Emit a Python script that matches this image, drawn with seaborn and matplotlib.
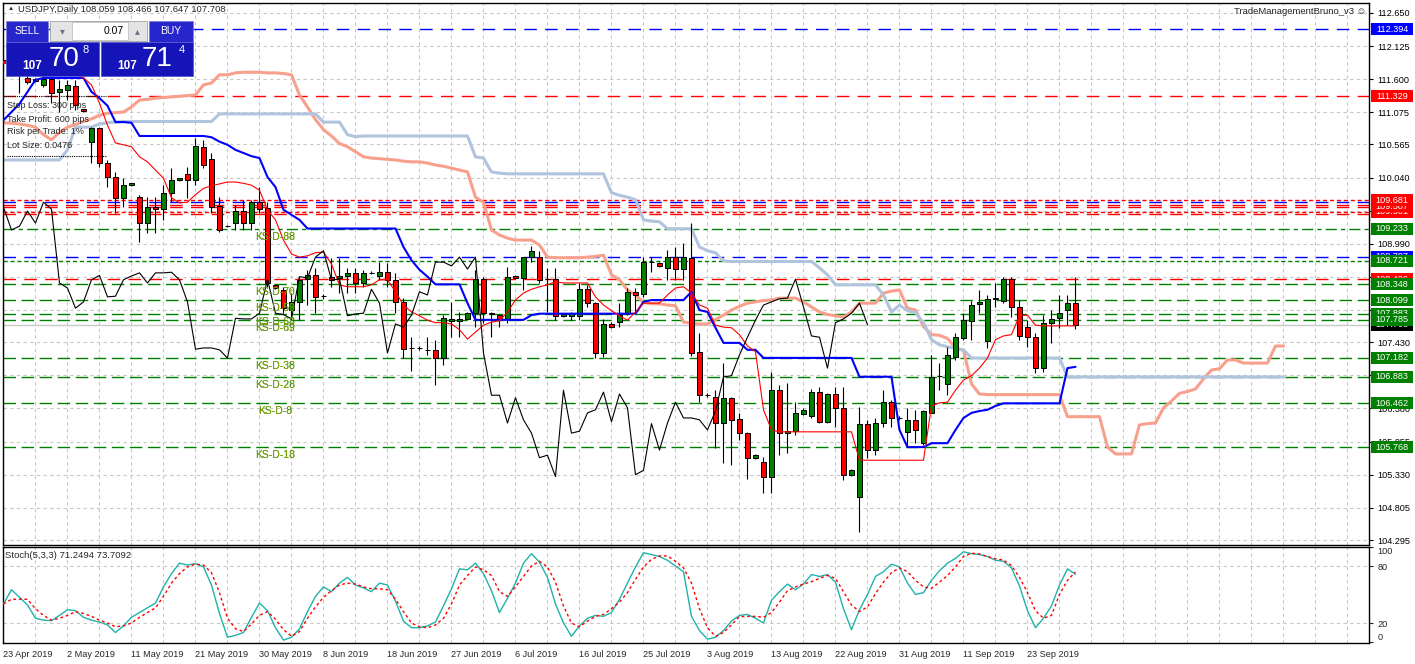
import matplotlib
matplotlib.use("Agg")
import matplotlib.pyplot as plt
import matplotlib.transforms as mtransforms
from matplotlib.patches import Rectangle
from matplotlib.lines import Line2D
import numpy as np
import seaborn as sns

# ---------------- data ----------------
opens = [111.90, 111.86, 111.90, 111.62, 111.60, 111.51, 111.60, 111.40, 111.43, 111.49,
         111.12, 110.61, 110.83, 110.27, 110.05, 109.72, 109.92, 109.73, 109.32, 109.57,
         109.54, 109.80, 110.00, 110.10, 110.00, 110.53, 110.34, 109.59, 109.27, 109.32,
         109.51, 109.32, 109.65, 109.56, 108.34, 108.26, 107.94, 108.07, 108.43, 108.49,
         108.16, 108.47, 108.45, 108.48, 108.53, 108.37, 108.53, 108.48, 108.54, 108.42,
         108.07, 107.34, 107.34, 107.31, 107.31, 107.18, 107.76, 107.76, 107.80, 107.89,
         108.43, 107.89, 107.86, 107.80, 108.48, 108.45, 108.78, 108.78, 108.43, 108.43,
         107.85, 107.85, 107.85, 108.27, 108.05, 107.26, 107.72, 107.75, 107.89, 108.23,
         108.20, 108.70, 108.69, 108.61, 108.78, 108.59, 108.76, 107.28, 106.59, 106.56,
         106.15, 106.55, 106.21, 105.99, 105.60, 105.53, 105.30, 106.67, 105.99, 106.02,
         106.30, 106.26, 106.64, 106.17, 106.61, 106.39, 105.33, 104.98, 106.14, 105.72,
         106.15, 106.48, 106.23, 106.01, 106.20, 105.83, 106.31, 106.90, 106.77, 107.20,
         107.50, 107.77, 108.04, 107.45, 108.12, 108.09, 108.43, 107.99, 107.67, 107.51,
         107.02, 107.74, 107.82, 107.94, 108.059]
highs = [111.97, 111.95, 111.97, 111.72, 111.62, 111.70, 111.70, 111.59, 111.59, 111.59,
         111.13, 110.84, 110.84, 110.32, 110.13, 110.03, 109.96, 109.76, 109.73, 109.73,
         109.92, 110.19, 110.04, 110.21, 110.67, 110.64, 110.43, 109.73, 109.29, 109.61,
         109.69, 109.69, 109.89, 109.66, 108.36, 108.31, 108.21, 108.47, 108.58, 108.60,
         108.20, 108.77, 108.77, 108.61, 108.61, 108.58, 108.56, 108.70, 108.69, 108.53,
         108.13, 107.52, 107.37, 107.52, 107.47, 107.86, 108.07, 107.91, 107.91, 108.58,
         108.47, 107.91, 107.87, 108.62, 108.50, 108.78, 108.96, 108.88, 108.61, 108.61,
         107.89, 107.91, 108.37, 108.34, 108.07, 107.80, 107.75, 108.05, 108.29, 108.29,
         108.78, 108.78, 108.70, 108.89, 108.94, 109.00, 109.32, 107.58, 106.62, 106.67,
         107.10, 106.56, 106.31, 106.00, 105.66, 105.61, 106.96, 106.75, 106.78, 106.48,
         106.38, 106.69, 106.72, 106.63, 106.72, 106.72, 105.42, 106.40, 106.20, 106.23,
         106.67, 106.51, 106.26, 106.39, 106.36, 106.36, 107.23, 107.10, 107.36, 107.58,
         107.89, 108.09, 108.26, 108.18, 108.37, 108.47, 108.47, 108.10, 107.78, 107.58,
         107.86, 107.94, 108.18, 108.18, 108.466]
lows = [111.76, 111.80, 111.38, 111.52, 111.55, 111.47, 111.22, 111.08, 111.27, 111.11,
        111.08, 110.27, 110.21, 109.89, 109.48, 109.57, 109.90, 109.02, 109.16, 109.16,
        109.37, 109.65, 109.99, 109.72, 109.93, 110.19, 109.48, 109.18, 109.25, 109.21,
        109.21, 109.21, 109.48, 108.31, 108.28, 107.89, 107.78, 107.78, 108.02, 107.89,
        108.12, 108.31, 108.21, 108.21, 108.21, 108.31, 108.51, 108.42, 108.31, 107.89,
        107.18, 106.97, 107.31, 107.23, 106.75, 107.07, 107.51, 107.51, 107.78, 107.67,
        107.74, 107.51, 107.67, 107.74, 108.44, 108.26, 108.70, 108.37, 107.91, 107.78,
        107.83, 107.78, 107.78, 107.99, 107.18, 107.20, 107.65, 107.67, 107.86, 107.89,
        108.15, 108.54, 108.63, 108.42, 108.42, 108.42, 107.21, 106.48, 106.56, 105.75,
        105.52, 105.49, 105.88, 105.26, 105.58, 105.04, 105.04, 105.64, 105.67, 105.96,
        106.27, 106.23, 106.15, 106.15, 106.09, 105.25, 105.31, 104.42, 105.60, 105.64,
        106.09, 106.09, 106.20, 105.77, 105.83, 105.80, 106.31, 106.67, 106.59, 107.15,
        107.47, 107.47, 107.89, 107.34, 107.99, 108.05, 107.83, 107.47, 107.36, 106.94,
        106.96, 107.42, 107.66, 107.70, 107.647]
closes = [111.86, 111.90, 111.68, 111.56, 111.57, 111.60, 111.38, 111.45, 111.51, 111.19,
          111.10, 110.83, 110.27, 110.05, 109.72, 109.92, 109.95, 109.32, 109.57, 109.54,
          109.80, 110.00, 110.03, 110.00, 110.54, 110.24, 109.57, 109.21, 109.27, 109.51,
          109.32, 109.65, 109.54, 108.37, 108.29, 107.97, 108.07, 108.42, 108.49, 108.15,
          108.16, 108.42, 108.48, 108.53, 108.37, 108.53, 108.53, 108.54, 108.42, 108.07,
          107.32, 107.34, 107.34, 107.31, 107.18, 107.81, 107.80, 107.80, 107.89, 108.43,
          107.89, 107.87, 107.80, 108.47, 108.45, 108.78, 108.88, 108.42, 108.43, 107.85,
          107.88, 107.89, 108.27, 108.05, 107.26, 107.72, 107.67, 107.86, 108.23, 108.18,
          108.70, 108.70, 108.64, 108.78, 108.59, 108.78, 107.26, 106.59, 106.59, 106.15,
          106.55, 106.20, 105.99, 105.60, 105.64, 105.30, 106.67, 105.99, 106.02, 106.31,
          106.36, 106.64, 106.17, 106.61, 106.39, 105.33, 105.40, 106.14, 105.72, 106.15,
          106.48, 106.23, 106.23, 106.20, 106.04, 106.34, 106.88, 106.90, 107.23, 107.51,
          107.78, 108.02, 108.07, 108.12, 108.13, 108.43, 107.99, 107.53, 107.51, 107.02,
          107.74, 107.80, 107.89, 108.05, 107.708]

tenkan = [111.85, 111.85, 111.85, 111.80, 111.80, 111.75, 111.75, 111.70, 111.70, 111.68,
          111.62, 111.51, 111.22, 110.87, 110.59, 110.56, 110.53, 110.37, 110.29, 110.16,
          110.03, 109.72, 109.64, 109.65, 109.77, 109.87, 109.91, 109.94, 109.97, 109.97,
          109.95, 109.92, 109.84, 109.53, 109.37, 109.05, 108.83, 108.78, 108.80, 108.85,
          108.86, 108.67, 108.34, 108.31, 108.31, 108.31, 108.34, 108.42, 108.42, 108.23,
          108.02, 107.91, 107.85, 107.78, 107.74, 107.74, 107.72, 107.63, 107.48, 107.59,
          107.70, 107.75, 107.77, 107.91, 108.10, 108.21, 108.27, 108.31, 108.34, 108.39,
          108.37, 108.37, 108.37, 108.37, 108.15, 108.02, 107.93, 107.85, 107.78, 107.91,
          108.05, 108.05, 108.05, 108.18, 108.29, 108.31, 108.21, 108.02, 107.97, 107.70,
          107.67, 107.66, 107.55, 107.37, 107.28, 106.36, 106.04, 106.01, 106.01, 106.01,
          106.01, 106.01, 106.01, 106.01, 106.01, 106.01, 106.01, 105.56, 105.56, 105.56,
          105.56, 105.56, 105.56, 105.56, 105.56, 105.56, 106.42, 106.47, 106.48, 106.67,
          106.83, 106.90, 107.02, 107.18, 107.47, 107.53, 107.55, 107.85, 107.86, 107.70,
          107.69, 107.69, 107.69, 107.69, 107.69]
kijun = [110.95, 111.08, 111.21, 111.40, 111.59, 111.62, 111.62, 111.62, 111.62, 111.62,
         111.62, 111.40, 111.30, 111.18, 110.92, 110.92, 110.91, 110.70, 110.70, 110.70,
         110.70, 110.70, 110.70, 110.70, 110.70, 110.70, 110.68, 110.61, 110.56, 110.48,
         110.43, 110.38, 110.35, 110.05, 109.89, 109.53, 109.45, 109.37, 109.233, 109.233,
         109.233, 109.233, 109.233, 109.233, 109.233, 109.233, 109.233, 109.233, 109.233, 109.233,
         108.94, 108.73, 108.58, 108.47, 108.348, 108.348, 108.348, 108.348, 108.05, 107.785,
         107.785, 107.785, 107.785, 107.785, 107.785, 107.785, 107.86, 107.883, 107.883, 107.883,
         107.883, 107.883, 107.883, 107.883, 107.883, 107.883, 107.883, 107.883, 107.883, 107.883,
         108.07, 108.099, 108.099, 108.099, 108.099, 108.099, 108.23, 107.94, 107.91, 107.66,
         107.42, 107.42, 107.42, 107.31, 107.31, 107.182, 107.182, 107.182, 107.182, 107.182,
         107.182, 107.182, 107.182, 107.182, 107.182, 107.182, 107.182, 106.883, 106.883, 106.883,
         106.883, 106.883, 106.04, 105.768, 105.768, 105.768, 105.83, 105.83, 105.83, 106.04,
         106.23, 106.31, 106.34, 106.36, 106.42, 106.462, 106.462, 106.462, 106.462, 106.462,
         106.462, 106.462, 106.462, 107.02, 107.04]
senkou_a = [110.91, 110.90, 110.89, 110.87, 110.84, 110.72, 110.64, 110.76, 110.84, 110.88,
            110.93, 110.97, 111.03, 111.06, 111.07, 111.08, 111.16, 111.27, 111.28, 111.30,
            111.31, 111.32, 111.33, 111.34, 111.35, 111.51, 111.54, 111.67, 111.67, 111.70,
            111.71, 111.71, 111.71, 111.70, 111.70, 111.69, 111.67, 111.35, 111.16, 110.96,
            110.80, 110.70, 110.58, 110.53, 110.45, 110.37, 110.35, 110.34, 110.33, 110.32,
            110.30, 110.29, 110.29, 110.27, 110.24, 110.22, 110.19, 110.16, 110.13, 109.73,
            109.65, 109.21, 109.13, 109.08, 109.05, 109.05, 109.05, 108.97, 108.78, 108.77,
            108.77, 108.77, 108.77, 108.78, 108.79, 108.81, 108.50, 108.42, 108.26, 108.18,
            108.06, 108.04, 108.04, 108.02, 108.01, 107.75, 107.73, 107.72, 107.72, 107.79,
            107.86, 107.94, 108.00, 108.05, 108.07, 108.09, 108.10, 108.13, 108.13, 108.13,
            108.07, 107.99, 107.91, 107.87, 107.85, 107.83, 107.91, 108.05, 108.05, 108.05,
            108.21, 108.24, 108.26, 107.97, 107.94, 107.68, 107.55, 107.54, 107.49, 107.34,
            107.30, 106.77, 106.61, 106.60, 106.60, 106.60, 106.60, 106.60, 106.60, 106.60,
            106.60, 106.60, 106.60, 106.25, 106.25, 106.25, 106.25, 106.25, 105.77, 105.66,
            105.66, 105.66, 106.12, 106.14, 106.15, 106.39, 106.50, 106.62, 106.65, 106.69,
            106.85, 106.99, 107.01, 107.15, 107.15, 107.10, 107.10, 107.10, 107.10, 107.37,
            107.37]
senkou_b = [110.32, 110.32, 110.32, 110.32, 110.32, 110.32, 110.32, 110.32, 110.48, 110.84,
            110.84, 110.84, 110.89, 110.91, 110.92, 110.93, 110.93, 110.93, 110.93, 110.93,
            110.93, 110.93, 110.93, 110.93, 110.93, 110.93, 110.93, 111.05, 111.05, 111.05,
            111.05, 111.05, 111.05, 111.05, 111.05, 111.05, 111.05, 111.05, 111.05, 111.05,
            110.92, 110.92, 110.92, 110.72, 110.69, 110.70, 110.70, 110.70, 110.70, 110.70,
            110.70, 110.70, 110.70, 110.70, 110.70, 110.70, 110.70, 110.70, 110.70, 110.37,
            110.35, 110.13, 110.11, 110.10, 110.10, 110.10, 110.10, 110.10, 110.10, 110.10,
            110.10, 110.10, 110.10, 110.10, 110.10, 110.10, 109.80, 109.76, 109.73, 109.69,
            109.37, 109.35, 109.34, 109.23, 109.23, 109.23, 109.23, 108.94, 108.88, 108.85,
            108.72, 108.71, 108.71, 108.71, 108.71, 108.71, 108.71, 108.71, 108.71, 108.71,
            108.71, 108.71, 108.61, 108.50, 108.34, 108.34, 108.34, 108.34, 108.34, 108.34,
            108.18, 107.91, 108.02, 107.93, 107.90, 107.74, 107.47, 107.39, 107.36, 107.33,
            107.31, 107.18, 107.18, 107.18, 107.18, 107.18, 107.18, 107.18, 107.18, 107.18,
            107.18, 107.18, 107.18, 106.88, 106.88, 106.88, 106.88, 106.88, 106.88, 106.88,
            106.88, 106.88, 106.88, 106.88, 106.88, 106.88, 106.88, 106.88, 106.88, 106.88,
            106.88, 106.88, 106.88, 106.88, 106.88, 106.88, 106.88, 106.88, 106.88, 106.88,
            106.88]

stoch_k = [40, 55, 47, 39, 25, 23, 22.5, 28, 34, 33,
           26, 23, 21, 18, 10, 17, 26, 31, 36, 41,
           58, 72, 83, 81, 82.5, 79, 60, 30, 5, 7,
           10, 26, 41, 33, 15, 2, 5, 14, 32, 48,
           58, 53, 62, 68, 60, 57, 53, 62, 60, 43,
           22, 15, 15, 17, 21, 38, 56, 77, 76, 83,
           72, 54, 31, 46, 62, 83, 93, 84, 68, 40,
           20, 6, 17, 25, 28, 27, 31, 45, 62, 79,
           94, 92, 90, 86, 80, 74, 27, 12, 3, 5,
           12, 22, 28, 29, 25, 20, 44, 53, 61, 55,
           61, 71, 69, 71, 63, 35, 13, 34, 50, 69,
           74, 82, 79, 62, 50, 52, 65, 75, 83, 88,
           95, 93, 92, 90, 86, 85, 78, 59, 33, 15,
           25, 38, 60, 77, 71.2494]
stoch_d = [40, 45, 45, 45, 35, 28, 23, 25, 28, 32,
           30, 27, 23, 20, 16, 17, 20, 26, 31, 36,
           48, 62, 72, 79, 82, 81, 73, 52, 25, 14,
           11, 19, 28, 32, 24, 13, 6, 11, 25, 37,
           47, 54, 60, 62, 61, 58, 56, 56, 55, 45,
           32, 20, 16, 15, 18, 25, 40, 60, 70, 79,
           76, 70, 53, 48, 58, 69, 80, 85, 79, 63,
           38, 20, 16, 22, 27, 29, 35, 42, 52, 66,
           79, 87, 90.6, 90.6, 85, 78, 62, 35, 15, 6,
           10, 18, 26.7, 27, 27, 26, 31, 42, 54, 58,
           61, 63.5, 67, 70, 67, 53, 39, 32, 37, 51,
           63, 73, 78, 74, 65, 58, 56.5, 63, 70, 79,
           90, 93.4, 92.7, 90, 87.6, 86.3, 80.5, 68, 52, 33,
           25, 28, 50, 65, 73.7092]

date_labels = ["23 Apr 2019", "2 May 2019", "11 May 2019", "21 May 2019", "30 May 2019",
               "8 Jun 2019", "18 Jun 2019", "27 Jun 2019", "6 Jul 2019", "16 Jul 2019",
               "25 Jul 2019", "3 Aug 2019", "13 Aug 2019", "22 Aug 2019", "31 Aug 2019",
               "11 Sep 2019", "23 Sep 2019"]
price_ticks = [112.650, 112.125, 111.600, 111.075, 110.565, 110.040, 109.515, 108.990,
               108.460, 107.940, 107.430, 106.905, 106.380, 105.855, 105.330, 104.805, 104.295]
stoch_ticks = [100, 80, 20, 0]

# horizontal levels and their kind
levels = [112.394, 111.329, 109.681, 109.650, 109.600, 109.575, 109.501, 109.465,
          109.233, 108.787, 108.721, 108.426, 108.348, 108.099, 107.883, 107.785,
          107.182, 106.883, 106.462, 105.768]
level_kinds = ['blue', 'red', 'red_dot', 'blue', 'red', 'red', 'red_dot', 'red',
               'green_dd', 'blue', 'green_dot', 'red', 'green', 'green', 'green', 'green',
               'green', 'green', 'green', 'green']
# price tags on the right axis (drawing order matters: later ones cover earlier)
tag_values = [112.394, 111.329, 109.501, 109.587, 109.681, 109.233, 108.787, 108.721,
              108.426, 108.348, 108.099, 107.883, 107.785, 107.182, 106.883, 106.462, 105.768]
tag_kinds = ['blue', 'red', 'red', 'red', 'red', 'green', 'blue', 'green',
             'red', 'green', 'green', 'green', 'green', 'green', 'green', 'green', 'green']
ks_levels = [109.233, 108.348, 108.099, 107.883, 107.785, 107.182, 106.883, 106.462, 105.768]
ks_text_a = ['KS-D-80', 'KS-D-76', 'KS-D-59', 'KS-D-61', 'KS-D-62', 'KS-D-30', 'KS-D-23', 'KS-D-6', 'KS-D-18']
ks_text_b = ['KS-D-88', 'KS-D-70', 'KS-D-50', 'KS-D-68', 'KS-D-69', 'KS-D-38', 'KS-D-28', 'KS-D-8', 'KS-D-18']

# ---------------- styling ----------------
sns.set_style("white")
plt.rcParams['font.family'] = ['Liberation Sans', 'DejaVu Sans']

W, H = 1415, 664
fig = plt.figure(figsize=(W / 100, H / 100), dpi=100, facecolor='white')


def fbox(x0, y0, x1, y1):
    return [x0 / W, 1 - y1 / H, (x1 - x0) / W, (y1 - y0) / H]


def rect(x0, y0, x1, y1, **kw):
    fig.add_artist(Rectangle((x0 / W, 1 - y1 / H), (x1 - x0) / W, (y1 - y0) / H,
                             transform=fig.transFigure, **kw))


def ftext(x, y, s, **kw):
    fig.text(x / W, 1 - y / H, s, **kw)


ax = fig.add_axes(fbox(3, 3, 1369, 545))
ax2 = fig.add_axes(fbox(3, 547, 1369, 643))

XL = (-0.06, 170.69)
GRID = dict(color='#c8c8c8', lw=0.8, ls=(0, (3, 3)), zorder=0)
kind_style = {
    'blue': ('#0000ff', (0, (9, 6))),
    'red': ('#ff0000', (0, (9, 6))),
    'red_dot': ('#ff0000', (0, (3, 2))),
    'green': ('#008000', (0, (9, 4))),
    'green_dd': ('#008000', (0, (8, 3, 3, 3))),
    'green_dot': ('#008000', (0, (3, 2))),
}
box_color = {'blue': '#0000ff', 'red': '#ff0000', 'green': '#008000'}

o = np.array(opens)
h = np.array(highs)
l = np.array(lows)
c = np.array(closes)
idx = np.arange(len(c))
fut = np.arange(len(senkou_a))

# ---------------- main price panel ----------------
ax.set_xlim(*XL)
ax.set_ylim(104.216, 112.808)
for gx in range(0, 172, 4):
    ax.axvline(gx, **GRID)
for t in price_ticks:
    ax.axhline(t, **GRID)

for v, k in zip(levels, level_kinds):
    col, ls = kind_style[k]
    ax.axhline(v, color=col, lw=1.0, ls=ls, zorder=1)
ax.axhline(c[-1], color='#c8c8c8', lw=1.0, zorder=1)

sns.lineplot(x=fut, y=senkou_a, ax=ax, color='#f9a08c', lw=2.2, estimator=None,
             sort=False, legend=False, zorder=2)
sns.lineplot(x=fut, y=senkou_b, ax=ax, color='#b0c4de', lw=2.2, estimator=None,
             sort=False, legend=False, zorder=2)

ax.vlines(idx, l, h, color='black', lw=0.8, zorder=3)
colors = np.where(c >= o, '#008000', '#ff0000')
ax.bar(idx, np.abs(c - o), bottom=np.minimum(o, c), width=0.62, color=colors,
       edgecolor='black', linewidth=0.7, zorder=4)

sns.lineplot(x=idx, y=kijun, ax=ax, color='#0000ff', lw=1.5, estimator=None,
             sort=False, legend=False, zorder=5)
sns.lineplot(x=idx, y=tenkan, ax=ax, color='#ff0000', lw=0.8, estimator=None,
             sort=False, legend=False, zorder=5)
sns.lineplot(x=idx[26:] - 26, y=c[26:], ax=ax, color='black', lw=0.8, estimator=None,
             sort=False, legend=False, zorder=5)

ax.set_xlabel('')
ax.set_ylabel('')
ax.set_xticks([])
ax.yaxis.tick_right()
ax.set_yticks(price_ticks)
ax.set_yticklabels([f"{t:.3f}" for t in price_ticks])
ax.tick_params(axis='y', labelsize=6.6, length=3, width=0.8, pad=3, colors='black')
for s in ax.spines.values():
    s.set_color('black')
    s.set_linewidth(1.0)

# right axis price tags
tr = mtransforms.blended_transform_factory(ax.transAxes, ax.transData)
ppu = 542 / (112.808 - 104.216)
bh = 12 / ppu
def tag(v, fc, txt_color='white', z=6):
    ax.add_patch(Rectangle((1 + 2 / 1366, v - bh / 2), 42 / 1366, bh, transform=tr,
                           fc=fc, ec='none', clip_on=False, zorder=z))
    ax.text(1 + 23 / 1366, v, f"{v:.3f}", transform=tr, ha='center', va='center',
            fontsize=6.6, color=txt_color, clip_on=False, zorder=z + 0.5)

tag(c[-1], 'black', z=6)
for n, (v, k) in enumerate(zip(tag_values, tag_kinds)):
    tag(v, box_color[k], z=7 + n)

# kijun level labels
off = mtransforms.offset_copy(ax.transData, fig=fig, x=0, y=-8, units='dots')
for v, ta, tb in zip(ks_levels, ks_text_a, ks_text_b):
    x0 = 31.8 if tb == 'KS-D-8' else 31.4
    ax.text(x0, v, tb, transform=off, fontsize=7.5, color='#008000', va='center', zorder=8)
    ax.text(x0, v, ta, transform=off, fontsize=7.5, color='#a8a800', alpha=0.75,
            va='center', zorder=8)

# ---------------- stochastic panel ----------------
ax2.set_xlim(*XL)
ax2.set_ylim(-1.05, 100)
for gx in range(0, 172, 4):
    ax2.axvline(gx, **GRID)
for t in (80, 20):
    ax2.axhline(t, **GRID)
sns.lineplot(x=idx, y=stoch_k, ax=ax2, color='#20b2aa', lw=1.0, estimator=None,
             sort=False, legend=False, zorder=3)
sns.lineplot(x=idx, y=stoch_d, ax=ax2, color='#ff0000', lw=1.0, estimator=None,
             sort=False, legend=False, zorder=4)
ax2.lines[-1].set_linestyle((0, (2, 2)))
ax2.set_xlabel('')
ax2.set_ylabel('')
ax2.yaxis.tick_right()
ax2.set_yticks(stoch_ticks)
ax2.set_yticklabels([str(t) for t in stoch_ticks])
ax2.tick_params(axis='y', labelsize=6.6, length=3, width=0.8, pad=3)
for lab, t in zip(ax2.get_yticklabels(), stoch_ticks):
    if t == 100:
        lab.set_verticalalignment('top')
    elif t == 0:
        lab.set_verticalalignment('bottom')
ax2.set_xticks(range(0, 8 * len(date_labels), 8))
ax2.set_xticklabels(date_labels, ha='left')
ax2.tick_params(axis='x', labelsize=6.6, length=3, width=0.8, pad=2)
for s in ax2.spines.values():
    s.set_color('black')
    s.set_linewidth(1.0)

# ---------------- texts and trade panel ----------------
ftext(8, 9, '\u25b2', fontsize=4.5, va='center', ha='left')
ftext(18, 9, f"USDJPY,Daily {opens[-1]:.3f} {highs[-1]:.3f} {lows[-1]:.3f} {closes[-1]:.3f}",
      fontsize=6.8, va='center', ha='left')
ftext(1366, 11, 'TradeManagementBruno_v3 \u263a', fontsize=6.8, va='center', ha='right')
ftext(5, 556, f"Stoch(5,3,3) {stoch_k[-1]:.4f} {stoch_d[-1]:.4f}", fontsize=6.8,
      va='center', ha='left')

rect(6, 21, 48, 42, fc='#2626cc', ec='#8080d8', lw=0.6)
rect(149, 21, 193, 42, fc='#2626cc', ec='#8080d8', lw=0.6)
rect(50, 21, 147, 41, fc='#e4e4e4', ec='#a0a0a0', lw=0.6)
rect(72, 22, 128, 40, fc='white', ec='#b8b8b8', lw=0.5)
rect(6, 42, 99, 76, fc='#1414b8', ec='#5a5ad0', lw=0.6)
rect(101, 42, 193, 76, fc='#1414b8', ec='#5a5ad0', lw=0.6)
ftext(27, 31, 'SELL', fontsize=7.5, color='white', ha='center', va='center')
ftext(171, 31, 'BUY', fontsize=7.5, color='white', ha='center', va='center')
ftext(124, 31, '0.07', fontsize=7.5, color='black', ha='right', va='center')
ftext(62, 31, '\u25be', fontsize=7, color='#707090', ha='center', va='center')
ftext(137, 31, '\u25b4', fontsize=7, color='#707090', ha='center', va='center')
ftext(32, 66, '107', fontsize=8.5, weight='bold', color='white', ha='center', va='center')
ftext(64, 59, '70', fontsize=20, color='white', ha='center', va='center')
ftext(86, 50, '8', fontsize=8, color='white', ha='center', va='center')
ftext(127, 66, '107', fontsize=8.5, weight='bold', color='white', ha='center', va='center')
ftext(157, 59, '71', fontsize=20, color='white', ha='center', va='center')
ftext(182, 50, '4', fontsize=8, color='white', ha='center', va='center')

fig.add_artist(Line2D([3 / W, 106 / W], [1 - 96 / H] * 2, transform=fig.transFigure,
                      color='black', lw=0.8, ls=(0, (1, 1))))
fig.add_artist(Line2D([7 / W, 106 / W], [1 - 156 / H] * 2, transform=fig.transFigure,
                      color='black', lw=0.8, ls=(0, (1, 1))))
for yy, s in zip((106, 119, 132, 145),
                 ('Stop Loss: 300 pips', 'Take Profit: 600 pips', 'Risk per Trade: 1%',
                  'Lot Size: 0.0476')):
    ftext(7, yy, s, fontsize=6.5, va='center', ha='left')

fig.savefig('out.png', dpi=100, facecolor='white')
